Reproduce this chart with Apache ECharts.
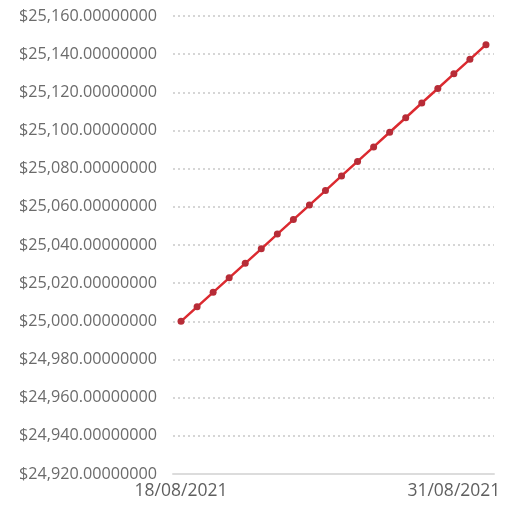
<!DOCTYPE html>
<html>
<head>
<meta charset="utf-8">
<script src="https://cdn.jsdelivr.net/npm/echarts@6/dist/echarts.min.js"></script>
<style>
  html, body { margin: 0; padding: 0; background: #fff; }
  #chart { width: 513px; height: 506px; }
</style>
</head>
<body>
<div id="chart"></div>
<script>
// Portfolio value snapshots
const dates = [
  "18/08/2021", "19/08/2021", "19/08/2021", "20/08/2021", "21/08/2021",
  "22/08/2021", "23/08/2021", "23/08/2021", "24/08/2021", "25/08/2021",
  "26/08/2021", "26/08/2021", "27/08/2021", "28/08/2021", "29/08/2021",
  "29/08/2021", "30/08/2021", "31/08/2021", "31/08/2021", "01/09/2021"
];
const balances = [
  25000.0, 25007.6, 25015.2, 25022.8, 25030.4,
  25038.0, 25045.7, 25053.3, 25060.9, 25068.5,
  25076.2, 25083.8, 25091.4, 25099.1, 25106.7,
  25114.4, 25122.0, 25129.7, 25137.3, 25145.0
];
const yMin = 24920;
const yMax = 25160;
const yStep = 20;

const fmtMoney = v => '$' + v.toLocaleString('en-US', { minimumFractionDigits: 8, maximumFractionDigits: 8 });

const chart = echarts.init(document.getElementById('chart'), null, { renderer: 'canvas' });
chart.setOption({
  animation: false,
  grid: { left: 173, right: 19, top: 16, bottom: 32, containLabel: false },
  xAxis: {
    type: 'category',
    data: dates,
    boundaryGap: true,
    axisLine: { show: true, lineStyle: { color: '#dcdcdc', width: 2 } },
    axisTick: { show: false },
    axisLabel: {
      interval: 16,
      margin: 8,
      color: '#5f5f5f',
      fontFamily: 'Open Sans',
      fontSize: 17.5
    },
    splitLine: { show: false }
  },
  yAxis: {
    type: 'value',
    min: yMin,
    max: yMax,
    interval: yStep,
    axisLine: { show: false },
    axisTick: { show: false },
    axisLabel: {
      margin: 16,
      color: '#6b6b6b',
      fontFamily: 'Open Sans',
      fontSize: 16.2,
      formatter: fmtMoney
    },
    splitLine: {
      show: true,
      lineStyle: { color: '#d6d6d6', width: 2, type: [2, 3] }
    }
  },
  series: [{
    type: 'line',
    data: balances,
    symbol: 'circle',
    symbolSize: 7,
    showSymbol: true,
    lineStyle: { color: '#dc2a30', width: 2.5 },
    itemStyle: { color: '#b72c37' }
  }]
});
</script>
</body>
</html>
